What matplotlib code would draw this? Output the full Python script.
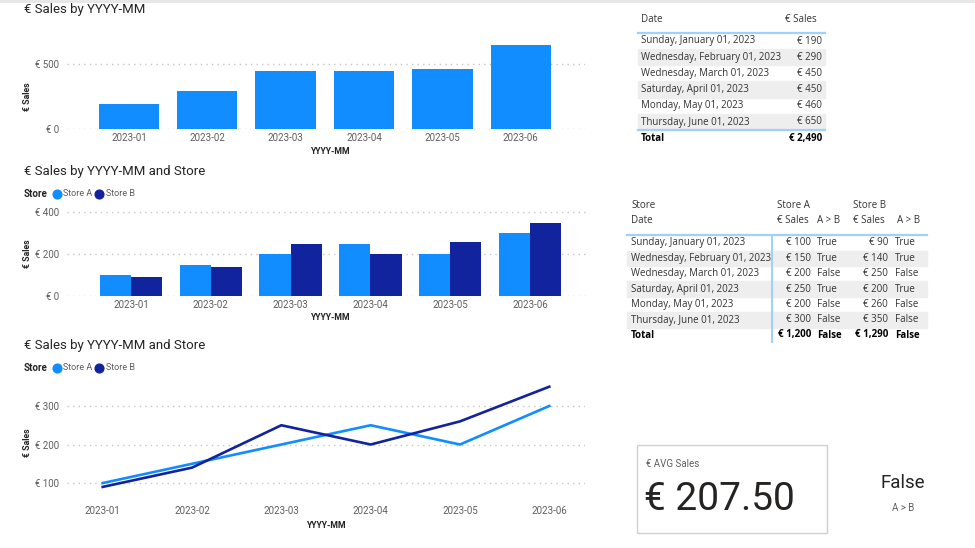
import matplotlib
matplotlib.use("Agg")
import matplotlib.pyplot as plt
from matplotlib.lines import Line2D
from matplotlib.patches import Rectangle

# ---- data ----
months = ["2023-01", "2023-02", "2023-03", "2023-04", "2023-05", "2023-06"]
dates = ["Sunday, January 01, 2023", "Wednesday, February 01, 2023",
         "Wednesday, March 01, 2023", "Saturday, April 01, 2023",
         "Monday, May 01, 2023", "Thursday, June 01, 2023"]
sales_total = [190, 290, 450, 450, 460, 650]
sales_a = [100, 150, 200, 250, 200, 300]
sales_b = [90, 140, 250, 200, 260, 350]
avg_sales = 207.50

W, H = 975, 548
C_A = "#118DFF"
C_B = "#12239E"
GRAY = "#605E5C"
DARK = "#252423"
GRID = "#C8C6C4"
CHART_FONT = ["Roboto", "DejaVu Sans"]
TABLE_FONT = ["Open Sans", "DejaVu Sans"]

plt.rcParams["font.family"] = CHART_FONT

fig = plt.figure(figsize=(W / 100, H / 100), dpi=100)
fig.patch.set_facecolor("white")


def px(x, y):
    return x / W, 1 - y / H


def txt(x, y, s, **kw):
    kw.setdefault("va", "center")
    fig.text(*px(x, y), s, **kw)


def ax_at(left, top, right, bottom):
    return fig.add_axes([left / W, 1 - bottom / H, (right - left) / W, (bottom - top) / H])


def style(ax, yticks, ylabels):
    for s in ax.spines.values():
        s.set_visible(False)
    ax.set_yticks(yticks)
    ax.set_yticklabels(ylabels)
    ax.yaxis.grid(True, linestyle=(0, (1, 3)), color=GRID, linewidth=1)
    ax.set_axisbelow(True)
    ax.tick_params(length=0, labelsize=7, colors=GRAY)
    ax.tick_params(axis="x", pad=3)
    ax.tick_params(axis="y", pad=6)
    ax.set_xticks(range(len(months)))
    ax.set_xticklabels(months)


def legend(y):
    txt(24, y, "Store", fontsize=7, fontweight="bold", color=DARK)
    for cx, col, lab in [(57, C_A, "Store A"), (99, C_B, "Store B")]:
        fig.add_artist(Line2D([cx / W], [1 - y / H], marker="o", ms=6.3, color=col,
                              transform=fig.transFigure))
        txt(cx + 6.5, y, lab, fontsize=6.5, color=GRAY)


# top thin shadow line
fig.add_artist(Line2D([0, 1], [1 - 1 / H, 1 - 1 / H], color="#E6E6E6", lw=2,
                      transform=fig.transFigure))

# ---- chart 1 ----
txt(24, 9, "€ Sales by YYYY-MM", fontsize=9.5, color=DARK)
ax1 = ax_at(67, 38, 585, 129)
ax1.bar(range(len(months)), sales_total, width=0.77, color=C_A)
ax1.set_xlim(-0.79, 5.82)
ax1.set_ylim(0, 700)
style(ax1, [0, 500], ["€ 0", "€ 500"])
txt(28, 97, "€ Sales", fontsize=6.3, fontweight="bold", color=DARK, rotation=90, ha="center")
txt(330, 152, "YYYY-MM", fontsize=6.3, fontweight="bold", color=DARK, ha="center")

# ---- chart 2 ----
txt(24, 172, "€ Sales by YYYY-MM and Store", fontsize=9.5, color=DARK)
legend(194)
ax2 = ax_at(67, 208, 590, 296)
xs = range(len(months))
ax2.bar([x - 0.195 for x in xs], sales_a, width=0.39, color=C_A)
ax2.bar([x + 0.195 for x in xs], sales_b, width=0.39, color=C_B)
ax2.set_xlim(-0.80, 5.75)
ax2.set_ylim(0, 420)
style(ax2, [0, 200, 400], ["€ 0", "€ 200", "€ 400"])
txt(28, 254, "€ Sales", fontsize=6.3, fontweight="bold", color=DARK, rotation=90, ha="center")
txt(330, 318, "YYYY-MM", fontsize=6.3, fontweight="bold", color=DARK, ha="center")

# ---- chart 3 ----
txt(24, 346, "€ Sales by YYYY-MM and Store", fontsize=9.5, color=DARK)
legend(368)
ax3 = ax_at(67, 379, 585, 495)
ax3.plot(xs, sales_a, color=C_A, lw=1.9)
ax3.plot(xs, sales_b, color=C_B, lw=1.9)
ax3.set_xlim(-0.40, 5.40)
ax3.set_ylim(69, 370)
style(ax3, [100, 200, 300], ["€ 100", "€ 200", "€ 300"])
ax3.tick_params(axis="x", pad=8)
txt(28, 443, "€ Sales", fontsize=6.3, fontweight="bold", color=DARK, rotation=90, ha="center")
txt(326, 525, "YYYY-MM", fontsize=6.3, fontweight="bold", color=DARK, ha="center")

# ---- table 1 ----
TFS = 7
TC = "#333333"
row_h = 16.2
t1_left, t1_right = 638, 825
txt(641, 19, "Date", fontsize=TFS, color=TC, family=TABLE_FONT)
txt(817, 19, "€ Sales", fontsize=TFS, color=TC, family=TABLE_FONT, ha="right")
fig.add_artist(Line2D([t1_left / W, t1_right / W], [1 - 33 / H] * 2, color="#9FD0FF",
                      lw=1.6, transform=fig.transFigure))
for i, (d, v) in enumerate(zip(dates, sales_total)):
    y = 41 + i * row_h
    if i % 2 == 1:
        x0, y0 = px(t1_left, y + row_h / 2)
        fig.add_artist(Rectangle((x0, y0), (t1_right - t1_left) / W, row_h / H,
                                 color="#EEEEEE", transform=fig.transFigure, zorder=0))
    txt(641, y, d, fontsize=TFS, color=TC, family=TABLE_FONT)
    txt(822, y, f"€ {v:,}", fontsize=TFS, color=TC, family=TABLE_FONT, ha="right")
fig.add_artist(Line2D([t1_left / W, t1_right / W], [1 - 130 / H] * 2, color="#9FD0FF",
                      lw=1.6, transform=fig.transFigure))
txt(641, 138, "Total", fontsize=TFS, color="black", family=TABLE_FONT, fontweight="bold")
txt(822, 138, f"€ {sum(sales_total):,}", fontsize=TFS, color="black", family=TABLE_FONT,
    fontweight="bold", ha="right")

# ---- table 2 ----
t2_left, t2_right = 627, 927
txt(631, 206, "Store", fontsize=TFS, color=TC, family=TABLE_FONT)
txt(777, 206, "Store A", fontsize=TFS, color=TC, family=TABLE_FONT)
txt(853, 206, "Store B", fontsize=TFS, color=TC, family=TABLE_FONT)
txt(631, 221, "Date", fontsize=TFS, color=TC, family=TABLE_FONT)
txt(777, 221, "€ Sales", fontsize=TFS, color=TC, family=TABLE_FONT)
txt(817, 221, "A > B", fontsize=TFS, color=TC, family=TABLE_FONT)
txt(853, 221, "€ Sales", fontsize=TFS, color=TC, family=TABLE_FONT)
txt(897, 221, "A > B", fontsize=TFS, color=TC, family=TABLE_FONT)
fig.add_artist(Line2D([t2_left / W, t2_right / W], [1 - 235 / H] * 2, color="#9FD0FF",
                      lw=1.6, transform=fig.transFigure))
fig.add_artist(Line2D([772 / W] * 2, [1 - 236 / H, 1 - 342 / H], color="#9FD0FF",
                      lw=1.4, transform=fig.transFigure))
row_h2 = 15.4
for i, (d, a, b) in enumerate(zip(dates, sales_a, sales_b)):
    y = 243 + i * row_h2
    if i % 2 == 1:
        x0, y0 = px(t2_left, y + row_h2 / 2)
        fig.add_artist(Rectangle((x0, y0), (t2_right - t2_left) / W, row_h2 / H,
                                 color="#EEEEEE", transform=fig.transFigure, zorder=0))
    flag = str(a > b)
    txt(631, y, d, fontsize=TFS, color=TC, family=TABLE_FONT)
    txt(811, y, f"€ {a:,}", fontsize=TFS, color=TC, family=TABLE_FONT, ha="right")
    txt(817, y, flag, fontsize=TFS, color=TC, family=TABLE_FONT)
    txt(888, y, f"€ {b:,}", fontsize=TFS, color=TC, family=TABLE_FONT, ha="right")
    txt(895, y, flag, fontsize=TFS, color=TC, family=TABLE_FONT)
tot_flag = str(sum(sales_a) > sum(sales_b))
yt = 335
txt(631, yt, "Total", fontsize=TFS, color="black", family=TABLE_FONT, fontweight="bold")
txt(811, yt, f"€ {sum(sales_a):,}", fontsize=TFS, color="black", family=TABLE_FONT,
    fontweight="bold", ha="right")
txt(817, yt, tot_flag, fontsize=TFS, color="black", family=TABLE_FONT, fontweight="bold")
txt(888, yt, f"€ {sum(sales_b):,}", fontsize=TFS, color="black", family=TABLE_FONT,
    fontweight="bold", ha="right")
txt(895, yt, tot_flag, fontsize=TFS, color="black", family=TABLE_FONT, fontweight="bold")

# ---- card ----
x0, y0 = px(637, 533)
fig.add_artist(Rectangle((x0, y0), (827 - 637) / W, (533 - 445) / H, facecolor="white",
                         edgecolor="#D0D0D0", lw=1, transform=fig.transFigure))
txt(646, 464, "€ AVG Sales", fontsize=7, color=GRAY)
txt(644, 500, f"€ {avg_sales:.2f}", fontsize=28, color=DARK)
txt(903, 483, tot_flag, fontsize=13.5, color=DARK, ha="center")
txt(903, 508, "A > B", fontsize=7, color=GRAY, ha="center")

fig.savefig("out.png", dpi=100, facecolor="white")
